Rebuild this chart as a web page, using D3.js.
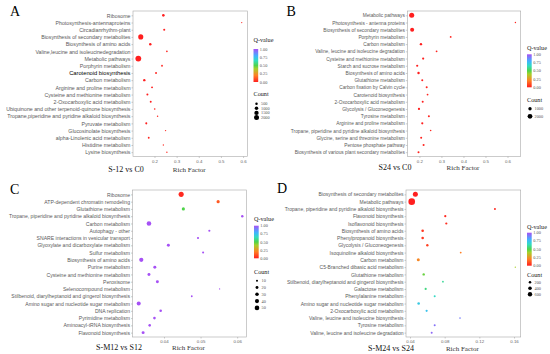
<!DOCTYPE html>
<html>
<head>
<meta charset="utf-8">
<script src="https://cdn.jsdelivr.net/npm/d3@7"></script>
<style>
body{margin:0;background:#fff}
svg{font-family:"Liberation Serif","Times New Roman",serif}
</style>
</head>
<body>
<svg id="chart" width="550" height="354"></svg>
<script>
// ---- panel A : S-12 vs C0
var pathsA = ["Ribosome","Photosynthesis-antennaproteins","Circadianrhythm-plant","Biosynthesis of  secondary metabolites",
  "Biosynthesis of amino acids","Valine,leucine and isoleucinedegradation","Metabolic pathways","Porphyrin metabolism",
  "Carotenoid biosynthesis","Carbon metabolism","Arginine and proline metabolism","Cysteine and methionine metabolism",
  "2-Oxocarboxylic acid metabolism","Ubiquinone and other terpenoid-quinone biosynthesis","Tropane,piperidine and pyridine alkaloid biosynthesis",
  "Pyruvate metabolism","Glucosinolate biosynthesis","alpha-Linolenic acid metabolism","Histidine metabolism","Lysine biosynthesis"];
var richA  = [0.240,0.594,0.244,0.138,0.181,0.256,0.127,0.234,0.207,0.154,0.189,0.168,0.183,0.201,0.214,0.163,0.250,0.174,0.240,0.256];
var qA     = [0,0.01,0,0,0,0.01,0,0.01,0.01,0,0,0,0,0.01,0.02,0,0.02,0.01,0.02,0.02];
var countA = [550,120,350,2100,500,230,2700,250,300,450,300,330,300,220,170,330,150,270,140,160];
var countBreaksA = [500,1000,1500,2000];

// ---- panel B : S24 vs C0
var pathsB = ["Metabolic pathways","Photosynthesis - antenna proteins","Biosynthesis of secondary metabolites","Porphyrin metabolism",
  "Carbon metabolism","Valine, leucine and isoleucine degradation","Cysteine and methionine metabolism","Starch and sucrose metabolism",
  "Biosynthesis of amino acids","Glutathione metabolism","Carbon fixation by Calvin cycle","Carotenoid biosynthesis",
  "2-Oxocarboxylic acid metabolism","Glycolysis / Gluconeogenesis","Tyrosine metabolism","Arginine and proline metabolism",
  "Tropane, piperidine and pyridine alkaloid biosynthesis","Glycine, serine and threonine metabolism","Pentose phosphate pathway",
  "Biosynthesis of various plant secondary metabolites"];
var richB  = [0.165,0.636,0.167,0.342,0.207,0.278,0.217,0.190,0.196,0.213,0.233,0.237,0.215,0.198,0.243,0.213,0.251,0.208,0.219,0.196];
var qB     = [0,0.01,0,0.01,0,0.01,0,0,0,0,0.01,0.01,0,0,0.01,0,0.02,0.01,0.01,0.01];
var countB = [2200,170,1400,280,500,280,420,420,500,350,350,280,350,420,350,420,220,350,350,350];
var countBreaksB = [1000,2000];

// ---- panel C : S-M12 vs S12
var pathsC = ["Ribosome","ATP-dependent chromatin remodeling","Glutathione metabolism","Tropane, piperidine and pyridine alkaloid biosynthesis",
  "Carbon metabolism","Autophagy - other","SNARE interactions in vesicular transport","Glyoxylate and dicarboxylate metabolism",
  "Sulfur metabolism","Biosynthesis of amino acids","Purine metabolism","Cysteine and methionine metabolism","Peroxisome",
  "Selenocompound metabolism","Stilbenoid, diarylheptanoid and gingerol biosynthesis","Amino sugar and nucleotide sugar metabolism",
  "DNA replication","Pyrimidine metabolism","Aminoacyl-tRNA biosynthesis","Flavonoid biosynthesis"];
var richC  = [0.0447,0.0548,0.0453,0.0614,0.0359,0.0524,0.0493,0.0412,0.0507,0.0338,0.0375,0.0359,0.0382,0.0552,0.0476,0.0331,0.0391,0.0374,0.0361,0.0343];
var qC     = [0.02,0.12,0.5,1,1,1,1,1,1,1,1,1,1,1,1,1,1,1,1,1];
var countC = [62,24,24,14,50,11,11,21,10,42,21,21,21,4,8,38,16,16,16,21];
var countBreaksC = [10,20,30,40,50];

// ---- panel D : S-M24 vs S24
var pathsD = ["Biosynthesis of secondary metabolites","Metabolic pathways","Tropane, piperidine and pyridine alkaloid biosynthesis",
  "Flavonoid biosynthesis","Isoflavonoid biosynthesis","Biosynthesis of amino acids","Phenylpropanoid biosynthesis",
  "Glycolysis / Gluconeogenesis","Isoquinoline alkaloid biosynthesis","Carbon metabolism","C5-Branched dibasic acid metabolism",
  "Glutathione metabolism","Stilbenoid, diarylheptanoid and gingerol biosynthesis","Galactose metabolism","Phenylalanine metabolism",
  "Amino sugar and nucleotide sugar metabolism","2-Oxocarboxylic acid metabolism","Valine, leucine and isoleucine biosynthesis",
  "Tyrosine metabolism","Valine, leucine and isoleucine degradation"];
var richD  = [0.0462,0.0420,0.138,0.0807,0.0819,0.0546,0.0546,0.0600,0.0985,0.0496,0.1615,0.0558,0.0780,0.0581,0.0685,0.0500,0.0592,0.0977,0.0685,0.0650];
var qD     = [0,0,0.02,0.02,0.03,0.05,0.05,0.07,0.2,0.22,0.4,0.47,0.6,0.57,0.66,0.72,0.74,0.9,0.93,0.95];
var countD = [775,1350,124,150,150,210,210,180,100,280,60,180,100,150,124,210,150,80,124,124];
var countBreaksD = [200,400,600];

var qTicks = [0,0.25,0.5,0.75,1];

var svg = d3.select("#chart");

var qColor = d3.scaleLinear()
  .domain([0, 0.2, 0.4, 0.5, 0.65, 0.78, 1])
  .range(["#ff1f1f", "#ff7f24", "#a6d02a", "#4fd34a", "#33dcc0", "#3cb6ff", "#a651f5"]);

function drawPanel(p){
  var g = svg.append("g");
  var x = d3.scaleLinear().domain(p.xDomain).range([p.left, p.right]);
  var y = d3.scalePoint().domain(p.paths).range([p.top, p.bottom]).padding(0.6);
  var r = d3.scaleSqrt().domain([0, p.sizeRef]).range([0, p.rRef]);

  g.append("rect")
    .attr("x", p.left).attr("y", p.top)
    .attr("width", p.right - p.left).attr("height", p.bottom - p.top)
    .attr("fill", "#fff").attr("stroke", "#a8a8a8").attr("stroke-width", 0.6);

  // x axis
  var gx = g.append("g").attr("transform", "translate(0," + p.bottom + ")")
    .call(d3.axisBottom(x).tickValues(p.ticks).tickFormat(d3.format(p.fmt)).tickSize(1.5).tickPadding(1.5));
  gx.select(".domain").remove();
  gx.selectAll("line").attr("stroke", "#999").attr("stroke-width", 0.5);
  gx.selectAll("text").attr("font-size", 4.4).attr("fill", "#666").attr("font-family", null);

  // y axis
  var gy = g.append("g").attr("transform", "translate(" + p.left + ",0)")
    .call(d3.axisLeft(y).tickSize(1.5).tickPadding(1));
  gy.select(".domain").remove();
  gy.selectAll("line").attr("stroke", "#999").attr("stroke-width", 0.5);
  gy.selectAll("text").attr("font-size", p.labelSize).attr("fill", "#5a5a5a").attr("font-family", null)
    .filter(function(d){ return d === p.bold; })
    .attr("fill", "#000").attr("font-size", p.labelSize + 0.5);

  // points
  g.selectAll("circle.pt").data(p.paths).enter().append("circle")
    .attr("class", "pt")
    .attr("cx", function(d, i){ return x(p.rich[i]); })
    .attr("cy", function(d){ return y(d); })
    .attr("r", function(d, i){ return Math.max(0.6, r(p.count[i])); })
    .attr("fill", function(d, i){ return qColor(p.q[i]); });

  // titles
  g.append("text").attr("x", (p.left + p.right) / 2 - 1).attr("y", p.rfY)
    .attr("text-anchor", "middle").attr("font-size", 7).attr("fill", "#333").text("Rich Factor");
  g.append("text").attr("x", p.titleX).attr("y", p.titleY)
    .attr("text-anchor", "middle").attr("font-size", 8).attr("fill", "#111").text(p.title);
  g.append("text").attr("x", p.letterX).attr("y", p.letterY)
    .attr("font-size", 14).attr("fill", "#000").text(p.letter);

  // Q-value legend
  var lx = p.legX;
  g.append("text").attr("x", lx).attr("y", p.qTitleY).attr("font-size", 6.2).attr("fill", "#222").text("Q-value");
  var gid = "grad" + p.letter;
  var grad = svg.append("defs").append("linearGradient").attr("id", gid)
    .attr("x1", 0).attr("y1", 1).attr("x2", 0).attr("y2", 0);
  d3.range(0, 1.001, 0.05).forEach(function(t){
    grad.append("stop").attr("offset", t).attr("stop-color", qColor(t));
  });
  var qy = d3.scaleLinear().domain([0, 1]).range([p.barBottom, p.barTop]);
  g.append("rect").attr("x", lx).attr("y", p.barTop).attr("width", 4.7)
    .attr("height", p.barBottom - p.barTop).attr("fill", "url(#" + gid + ")");
  g.selectAll("text.qt").data(qTicks).enter().append("text")
    .attr("class", "qt")
    .attr("x", lx + 6.3).attr("y", function(d){ return qy(d); })
    .attr("dy", "0.35em").attr("font-size", 4.3).attr("fill", "#555")
    .text(d3.format(".2f"));

  // Count legend
  g.append("text").attr("x", lx).attr("y", p.cTitleY).attr("font-size", 6.2).attr("fill", "#222").text("Count");
  var keys = g.selectAll("g.key").data(p.breaks).enter().append("g")
    .attr("class", "key")
    .attr("transform", function(d, i){ return "translate(" + (lx + 3) + "," + (p.keyY + i * p.keyStep) + ")"; });
  keys.append("circle").attr("r", function(d){ return r(d); }).attr("fill", "#000");
  keys.append("text").attr("x", 4.5).attr("dy", "0.35em").attr("font-size", 4.3).attr("fill", "#555")
    .text(function(d){ return d; });
}

drawPanel({letter:"A", letterX:10, letterY:16, paths:pathsA, rich:richA, q:qA, count:countA, breaks:countBreaksA,
  left:133, right:247.5, top:11, bottom:156.5, xDomain:[0.103, 0.62], ticks:[0.2,0.3,0.4,0.5,0.6], fmt:".1f",
  sizeRef:2000, rRef:2.5, labelSize:5.25, bold:"Carotenoid biosynthesis",
  rfY:172, title:"S-12 vs C0", titleX:126, titleY:172,
  legX:253.5, qTitleY:42, barTop:49, barBottom:82, cTitleY:96, keyY:103.7, keyStep:4.6});

drawPanel({letter:"B", letterX:286.5, letterY:16, paths:pathsB, rich:richB, q:qB, count:countB, breaks:countBreaksB,
  left:407.3, right:520.7, top:11, bottom:156.5, xDomain:[0.145, 0.66], ticks:[0.2,0.3,0.4,0.5,0.6], fmt:".1f",
  sizeRef:2000, rRef:2.4, labelSize:4.8, bold:null,
  rfY:169.5, title:"S24 vs C0", titleX:395, titleY:169.5,
  legX:527, qTitleY:50, barTop:54.3, barBottom:87.3, cTitleY:102, keyY:108.7, keyStep:7.6});

drawPanel({letter:"C", letterX:10, letterY:194, paths:pathsC, rich:richC, q:qC, count:countC, breaks:countBreaksC,
  left:132.5, right:246.3, top:190, bottom:337, xDomain:[0.0314, 0.0625], ticks:[0.04,0.05,0.06], fmt:".2f",
  sizeRef:50, rRef:2.3, labelSize:5.1, bold:null,
  rfY:350, title:"S-M12 vs S12", titleX:119, titleY:350,
  legX:254, qTitleY:220.5, barTop:225.7, barBottom:258.3, cTitleY:273.5, keyY:280.7, keyStep:6.8});

drawPanel({letter:"D", letterX:277, letterY:193, paths:pathsD, rich:richD, q:qD, count:countD, breaks:countBreaksD,
  left:406, right:520.7, top:190, bottom:337, xDomain:[0.0354, 0.1677], ticks:[0.04,0.08,0.12,0.16], fmt:".2f",
  sizeRef:600, rRef:2.2, labelSize:5.0, bold:null,
  rfY:351, title:"S-M24 vs S24", titleX:391, titleY:351,
  legX:527, qTitleY:228.5, barTop:232.7, barBottom:265.7, cTitleY:277, keyY:282.3, keyStep:6});
</script>
</body>
</html>
